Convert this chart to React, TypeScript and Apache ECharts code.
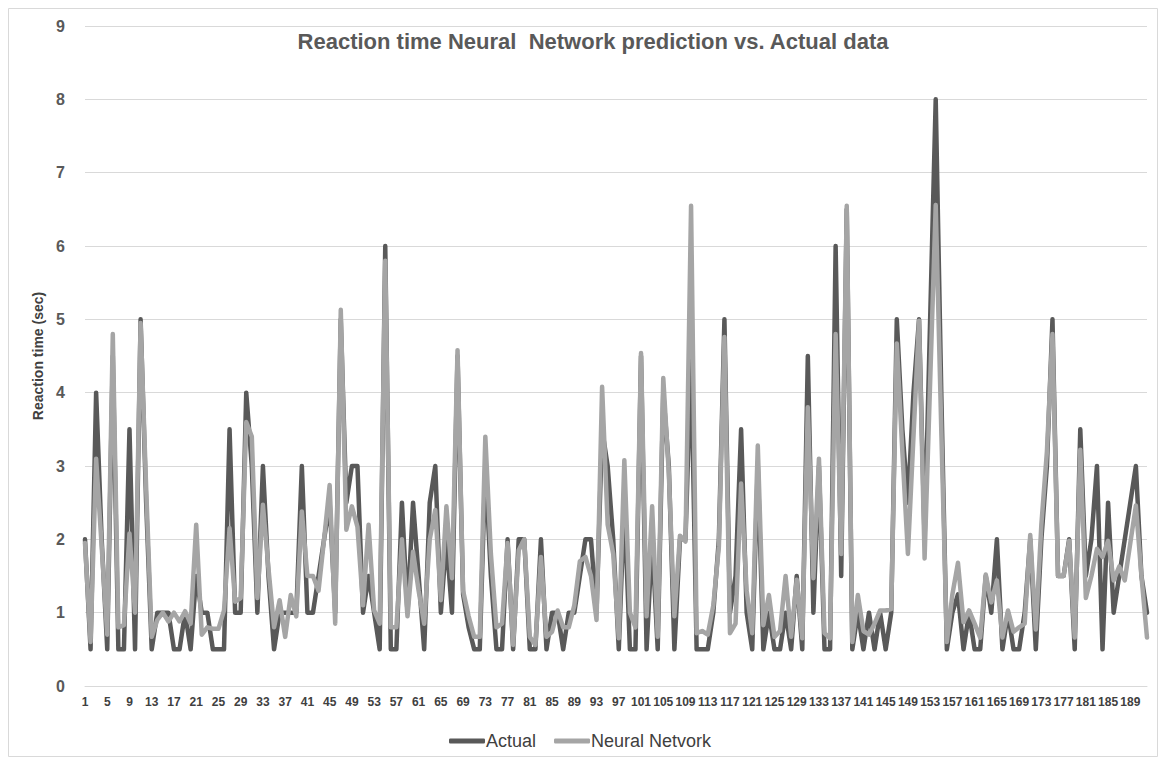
import React, { useEffect, useRef } from "react";
import * as echarts from "echarts";

const TITLE = "Reaction time Neural  Network prediction vs. Actual data";
const Y_NAME = "Reaction time (sec)";
const SERIES_NAMES = ["Actual", "Neural Netvork"];

// categories 1..192
const categories: string[] = Array.from({ length: 192 }, (_, i) => String(i + 1));

const actual: number[] = [
  2.0, 0.5, 4.0, 2.0, 0.5, 4.5, 0.5, 0.5, 3.5, 0.5,
  5.0, 2.5, 0.5, 1.0, 1.0, 1.0, 0.5, 0.5, 1.0, 0.5,
  1.5, 1.0, 1.0, 0.5, 0.5, 0.5, 3.5, 1.0, 1.0, 4.0,
  3.0, 1.0, 3.0, 1.5, 0.5, 1.0, 1.0, 1.0, 1.0, 3.0,
  1.0, 1.0, 1.5, 2.0, 2.5, 1.0, 5.0, 2.5, 3.0, 3.0,
  1.0, 1.5, 1.0, 0.5, 6.0, 0.5, 0.5, 2.5, 1.0, 2.5,
  1.5, 0.5, 2.5, 3.0, 1.0, 2.0, 1.0, 4.5, 1.25, 0.8,
  0.5, 0.5, 3.0, 1.5, 0.5, 0.5, 2.0, 0.5, 2.0, 2.0,
  0.5, 0.5, 2.0, 0.5, 1.0, 1.0, 0.5, 1.0, 1.0, 1.5,
  2.0, 2.0, 1.0, 3.5, 3.0, 2.0, 0.5, 2.5, 0.5, 0.5,
  4.5, 0.5, 2.0, 0.5, 4.0, 3.0, 0.5, 2.0, 2.0, 4.5,
  0.5, 0.5, 0.5, 1.0, 2.0, 5.0, 1.0, 1.5, 3.5, 1.0,
  0.5, 3.0, 0.5, 1.0, 0.5, 0.5, 1.0, 0.5, 1.5, 0.5,
  4.5, 1.0, 3.0, 0.5, 0.5, 6.0, 1.5, 6.5, 0.5, 1.0,
  0.5, 1.0, 0.5, 1.0, 0.5, 1.0, 5.0, 3.5, 2.5, 4.0,
  5.0, 2.0, 5.0, 8.0, 4.0, 0.5, 1.0, 1.25, 0.5, 1.0,
  0.5, 0.5, 1.5, 1.0, 2.0, 0.5, 1.0, 0.5, 0.5, 1.0,
  2.0, 0.5, 2.0, 3.0, 5.0, 1.5, 1.5, 2.0, 0.5, 3.5,
  1.5, 2.0, 3.0, 0.5, 2.5, 1.0, 1.5, 2.0, 2.5, 3.0,
  1.5, 1.0,
];

const neural: number[] = [
  1.95, 0.6, 3.1, 1.9, 0.7, 4.8, 0.8, 0.83, 2.08, 1.0,
  4.95, 2.7, 0.67, 0.9, 1.0, 0.88, 1.0, 0.88, 1.02, 0.85,
  2.2, 0.7, 0.8, 0.78, 0.78, 1.03, 2.15, 1.15, 1.2, 3.6,
  3.4, 1.2, 2.47, 1.6, 0.8, 1.17, 0.67, 1.24, 0.95, 2.38,
  1.5, 1.5, 1.3, 2.0, 2.74, 0.85, 5.13, 2.13, 2.45, 2.17,
  1.1, 2.2, 1.03, 0.85, 5.8, 0.8, 0.8, 2.0, 0.95, 1.83,
  1.3, 0.85, 2.0, 2.4, 1.17, 2.45, 1.47, 4.58, 1.3, 0.95,
  0.67, 0.67, 3.4, 1.8, 0.8, 0.85, 1.95, 0.56, 1.85, 2.0,
  0.67, 0.56, 1.76, 0.67, 0.74, 1.03, 0.8, 0.8, 1.1, 1.7,
  1.76, 1.5, 0.9, 4.08, 2.2, 1.8, 0.65, 3.08, 1.0, 0.8,
  4.54, 0.95, 2.45, 0.67, 4.2, 2.9, 0.95, 2.05, 1.97, 6.55,
  0.72, 0.75, 0.7, 1.1, 1.9, 4.76, 0.72, 0.85, 2.76, 1.3,
  0.72, 3.28, 0.83, 1.24, 0.67, 0.75, 1.5, 0.67, 1.45, 0.65,
  3.8, 1.47, 3.1, 0.72, 0.65, 4.8, 1.8, 6.55, 0.6, 1.24,
  0.75, 0.7, 0.85, 1.03, 1.03, 1.05, 4.67, 3.2, 1.8, 3.4,
  4.98, 1.74, 4.15, 6.56, 3.5, 0.6, 1.25, 1.68, 0.87, 1.03,
  0.85, 0.66, 1.52, 1.14, 1.44, 0.66, 1.03, 0.74, 0.8, 0.85,
  2.06, 0.77, 2.2, 3.2, 4.8, 1.5, 1.5, 1.98, 0.66, 3.22,
  1.2, 1.5, 1.87, 1.76, 1.98, 1.44, 1.63, 1.44, 1.95, 2.46,
  1.5, 0.66,
];

const Y_MIN = 0;
const Y_MAX = 9;
const Y_STEP = 1;

const DARK = "#595959";
const LIGHT = "#A5A5A5";
const FONT = "'Liberation Sans', Arial, sans-serif";

export default function App() {
  const ref = useRef<HTMLDivElement>(null);
  useEffect(() => {
    if (!ref.current) return;
    const chart = echarts.init(ref.current, undefined, { renderer: "svg" });
    chart.setOption({
      animation: false,
      backgroundColor: "#ffffff",
      title: {
        text: TITLE,
        left: 588,
        textAlign: "center",
        top: 25,
        textStyle: { fontFamily: FONT, fontSize: 22, fontWeight: "bold", color: "#595959" },
      },
      legend: {
        bottom: 10,
        left: 444,
        itemWidth: 36,
        itemHeight: 5,
        itemGap: 18,
        icon: "roundRect",
        textStyle: { fontFamily: FONT, fontSize: 18, color: "#404040", padding: [0, 0, 0, -4] },
        data: SERIES_NAMES,
      },
      grid: { left: 85, right: 19, top: 26, bottom: 79 },
      xAxis: {
        type: "category",
        data: categories,
        boundaryGap: false,
        axisLine: { show: true, lineStyle: { color: "#D9D9D9", width: 1 } },
        axisTick: { show: false },
        axisLabel: {
          interval: 3,
          margin: 10,
          fontFamily: FONT,
          fontSize: 12,
          fontWeight: "bold",
          color: "#404040",
        },
      },
      yAxis: {
        type: "value",
        min: Y_MIN,
        max: Y_MAX,
        interval: Y_STEP,
        name: Y_NAME,
        nameLocation: "middle",
        nameGap: 38,
        nameTextStyle: { fontFamily: FONT, fontSize: 14, fontWeight: "bold", color: "#404040" },
        axisLine: { show: false },
        axisTick: { show: false },
        axisLabel: {
          margin: 20,
          fontFamily: FONT,
          fontSize: 16,
          fontWeight: "bold",
          color: "#595959",
        },
        splitLine: { lineStyle: { color: "#D9D9D9", width: 1 } },
      },
      graphic: [
        {
          type: "rect",
          shape: { x: 8.5, y: 8.5, width: 1149, height: 748 },
          style: { fill: "none", stroke: "#D9D9D9", lineWidth: 1 },
          silent: true,
        },
      ],
      series: [
        {
          name: SERIES_NAMES[0],
          type: "line",
          data: actual,
          showSymbol: false,
          symbol: "none",
          color: DARK,
          lineStyle: { color: DARK, width: 4.5, cap: "round", join: "round" },
        },
        {
          name: SERIES_NAMES[1],
          type: "line",
          data: neural,
          showSymbol: false,
          symbol: "none",
          color: LIGHT,
          lineStyle: { color: LIGHT, width: 4.5, cap: "round", join: "round" },
        },
      ],
    });
    return () => chart.dispose();
  }, []);
  return (
    <div
      ref={ref}
      style={{ position: "fixed", left: 0, top: 0, width: 1166, height: 765, background: "#fff" }}
    />
  );
}
